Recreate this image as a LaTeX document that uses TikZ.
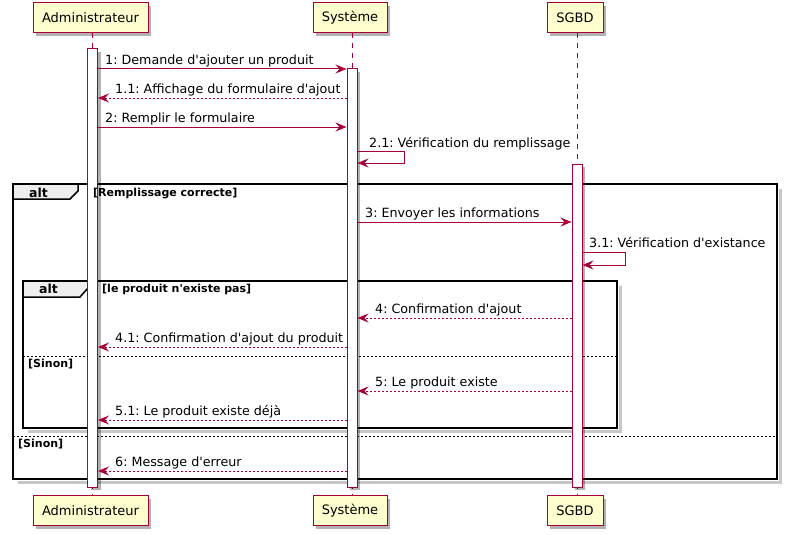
\documentclass[tikz,border=0pt]{standalone}
\usepackage{fontspec}
\setmainfont{DejaVu Sans}
\usetikzlibrary{arrows.meta,shadows}
\definecolor{pborder}{HTML}{A80036}
\definecolor{pfill}{HTML}{FEFECE}
\definecolor{tabfill}{HTML}{EEEEEE}
\newcommand{\sqt}{\textquotesingle}
\frenchspacing
\begin{document}
\begin{tikzpicture}[x=1pt,y=-1pt,
 boxshadow/.style={drop shadow={shadow xshift=3pt,shadow yshift=-3pt,opacity=.3,fill=black}},
 participant/.style={draw=pborder, fill=pfill, line width=1pt, minimum height=30pt, inner sep=0pt,
   font=\fontsize{13}{15}\selectfont, boxshadow},
 actbar/.style={draw=pborder, fill=white, line width=1pt, minimum width=10pt, inner sep=0pt, boxshadow},
 lifeline/.style={draw=pborder, line width=1pt, dash pattern=on 5pt off 5pt},
 msg/.style={draw=pborder, line width=1pt, -{Stealth[length=11pt,width=9pt,inset=4pt]}},
 reply/.style={msg, dash pattern=on 2pt off 2pt},
 lbl/.style={anchor=base west, inner sep=0pt, font=\fontsize{12.7}{15}\selectfont},
 guard/.style={anchor=base west, inner sep=0pt, font=\fontsize{11}{13}\selectfont\bfseries},
 altlbl/.style={anchor=base west, inner sep=0pt, font=\fontsize{12.5}{15}\selectfont\bfseries},
 frameline/.style={draw=black, line width=1.5pt},
 frameshadow/.style={draw=black!22, line width=3pt},
 sepline/.style={draw=black, line width=1pt, dash pattern=on 2pt off 2pt},
 tab/.style={draw=black, line width=1.5pt, fill=tabfill}
]
\useasboundingbox (0,0) rectangle (787,535);

% participants
\node[participant, minimum width=115pt] (admT) at (90.5,18) {Administrateur};
\node[participant, minimum width=74pt] (sysT) at (350,18) {Système};
\node[participant, minimum width=56pt] (dbT) at (575,18) {SGBD};
\node[participant, minimum width=115pt] (admB) at (90.5,510.5) {Administrateur};
\node[participant, minimum width=74pt] (sysB) at (350,510.5) {Système};
\node[participant, minimum width=56pt] (dbB) at (575,510.5) {SGBD};

% lifelines
\coordinate (admL) at (92.5,0);
\coordinate (sysL) at (352,0);
\coordinate (dbL) at (577,0);
\draw[lifeline] (admL |- admT.south) -- (admL |- admB.north);
\draw[lifeline] (sysL |- sysT.south) -- (sysL |- sysB.north);
\draw[lifeline] (dbL |- dbT.south) -- (dbL |- dbB.north);

% frame shadows
\draw[frameshadow] (780,189) -- (780,482) -- (18,482);
\draw[frameshadow] (620,286) -- (620,431) -- (28,431);

% outer alt frame
\draw[frameline] (13,184) rectangle (777,479);
\draw[tab] (13,184) -- (78,184) -- (78,191) -- (70,199) -- (13,199) -- cycle;
\node[altlbl] (alt1) at (29,197) {alt};
\draw[sepline] (13,436) -- (777,436);

% inner alt frame
\draw[frameline] (23,281) rectangle (617,428);
\draw[tab] (23,281) -- (88,281) -- (88,288) -- (80,297) -- (23,297) -- cycle;
\node[altlbl] (alt2) at (39,293) {alt};
\draw[sepline] (23,356) -- (617,356);

% activation bars
\node[actbar, minimum height=438pt] (admA) at (92.5,268) {};
\node[actbar, minimum height=418pt] (sysA) at (352,278) {};
\node[actbar, minimum height=323pt] (dbA) at (577,325.5) {};

% guards (drawn over bars)
\node[guard] (g1) at (93,196) {[Remplissage correcte]};
\node[guard] (g2) at (102,292) {[le produit n\sqt existe pas]};
\node[guard] (g4) at (28,367) {[Sinon]};
\node[guard] (g3) at (18,447) {[Sinon]};

% message rows
\coordinate (y1) at (0,69);
\coordinate (y11) at (0,98);
\coordinate (y2) at (0,127);
\coordinate (y21) at (0,151);
\coordinate (y21b) at (0,163);
\coordinate (y3) at (0,222);
\coordinate (y31) at (0,252);
\coordinate (y31b) at (0,265);
\coordinate (y4) at (0,318);
\coordinate (y41) at (0,347);
\coordinate (y5) at (0,391);
\coordinate (y51) at (0,420);
\coordinate (y6) at (0,471);

\draw[msg] (admA.east |- y1) -- (sysA.west |- y1);
\node[lbl] (t1) at (105,64) {1: Demande d\sqt ajouter un produit};
\draw[reply] (sysA.west |- y11) -- (admA.east |- y11);
\node[lbl] (t11) at (115,93) {1.1: Affichage du formulaire d\sqt ajout};
\draw[msg] (admA.east |- y2) -- (sysA.west |- y2);
\node[lbl] (t2) at (105,122) {2: Remplir le formulaire};
\draw[msg] (sysA.east |- y21) -- ++(47,0) -- ++(0,12) -- (sysA.east |- y21b);
\node[lbl] (t21) at (369,147) {2.1: Vérification du remplissage};
\draw[msg] (sysA.east |- y3) -- (dbA.west |- y3);
\node[lbl] (t3) at (365,217) {3: Envoyer les informations};
\draw[msg] (dbA.east |- y31) -- ++(43,0) -- ++(0,13) -- (dbA.east |- y31b);
\node[lbl] (t31) at (589,247) {3.1: Vérification d\sqt existance};
\draw[reply] (dbA.west |- y4) -- (sysA.east |- y4);
\node[lbl] (t4) at (375,313) {4: Confirmation d\sqt ajout};
\draw[reply] (sysA.west |- y41) -- (admA.east |- y41);
\node[lbl] (t41) at (115,342) {4.1: Confirmation d\sqt ajout du produit};
\draw[reply] (dbA.west |- y5) -- (sysA.east |- y5);
\node[lbl] (t5) at (375,386) {5: Le produit existe};
\draw[reply] (sysA.west |- y51) -- (admA.east |- y51);
\node[lbl] (t51) at (115,415) {5.1: Le produit existe déjà};
\draw[reply] (sysA.west |- y6) -- (admA.east |- y6);
\node[lbl] (t6) at (115,466) {6: Message d\sqt erreur};
\end{tikzpicture}
\end{document}
